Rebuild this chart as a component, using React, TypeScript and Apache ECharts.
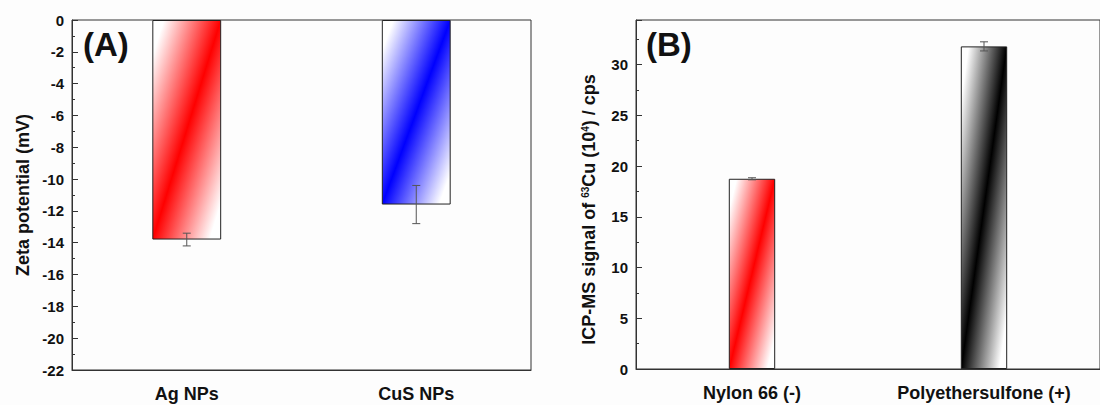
import React, { useEffect, useRef } from "react";
import * as echarts from "echarts";

const catsA = ["Ag NPs", "CuS NPs"];
const zetaMean = [-13.8, -11.6];
const zetaErr = [0.4, 1.2];
const zetaTicks = { min: -22, max: 0, interval: 2 };

const catsB = ["Nylon 66 (-)", "Polyethersulfone (+)"];
const icpMean = [18.75, 31.8];
const icpErr = [0.1, 0.45];
const icpTicks = { min: 0, max: 34.4, interval: 5 };

const colorsA = ["#ff0000", "#0000ff"];
const colorsB = ["#ff0000", "#000000"];

const FONT = "'Liberation Sans', Arial, sans-serif";

function grad(c: string) {
  return new echarts.graphic.LinearGradient(0, 0, 1, 1, [
    { offset: 0, color: "#ffffff" },
    { offset: 0.08, color: "#ffffff" },
    { offset: 0.5, color: c },
    { offset: 0.92, color: "#ffffff" },
    { offset: 1, color: "#ffffff" },
  ]);
}

function errRender(params: any, api: any) {
  const i = api.value(0);
  const lo = api.coord([i, api.value(1)]);
  const hi = api.coord([i, api.value(2)]);
  const w = 4;
  const style = { stroke: "#555", lineWidth: 1 };
  return {
    type: "group",
    children: [
      { type: "line", shape: { x1: lo[0], y1: lo[1], x2: hi[0], y2: hi[1] }, style },
      { type: "line", shape: { x1: lo[0] - w, y1: lo[1], x2: lo[0] + w, y2: lo[1] }, style },
      { type: "line", shape: { x1: hi[0] - w, y1: hi[1], x2: hi[0] + w, y2: hi[1] }, style },
    ],
  };
}

export default function App() {
  const ref = useRef<HTMLDivElement>(null);
  useEffect(() => {
    document.body.style.margin = "0";
    const chart = echarts.init(ref.current!, null, { renderer: "svg" });
    const yCommon = {
      axisLine: { show: true, lineStyle: { color: "#333", width: 1 } },
      axisTick: { show: true, inside: true, length: 6, lineStyle: { color: "#333" } },
      minorTick: { show: true, splitNumber: 2, length: 3, lineStyle: { color: "#333" } },
      splitLine: { show: false },
      axisLabel: { fontFamily: FONT, fontWeight: "bold", fontSize: 15, color: "#111", margin: 8, showMaxLabel: true },
      nameLocation: "middle",
      nameTextStyle: { fontFamily: FONT, fontWeight: "bold", fontSize: 18, color: "#111" },
    };
    const xCommon = {
      type: "category",
      position: "bottom",
      axisLine: { show: true, onZero: false, lineStyle: { color: "#333", width: 1 } },
      axisTick: { show: false },
      axisLabel: { fontFamily: FONT, fontWeight: "bold", fontSize: 18, color: "#111", margin: 15 },
    };
    chart.setOption({
      animation: false,
      backgroundColor: "#fdfdfd",
      grid: [
        { left: 72, top: 20, width: 459, height: 350, show: true, borderColor: "#333", borderWidth: 1, backgroundColor: "transparent" },
        { left: 636, top: 20, width: 474, height: 349, show: true, borderColor: "#333", borderWidth: 1, backgroundColor: "transparent" },
      ],
      xAxis: [
        { ...xCommon, gridIndex: 0, data: catsA },
        { ...xCommon, gridIndex: 1, data: catsB },
      ],
      yAxis: [
        {
          ...yCommon,
          type: "value",
          gridIndex: 0,
          min: zetaTicks.min,
          max: zetaTicks.max,
          interval: zetaTicks.interval,
          name: "Zeta potential (mV)",
          nameGap: 40,
        },
        {
          ...yCommon,
          type: "value",
          gridIndex: 1,
          min: icpTicks.min,
          max: icpTicks.max,
          interval: icpTicks.interval,
          axisLabel: { ...yCommon.axisLabel, showMaxLabel: false },
          name: "ICP-MS signal of {sup|63}Cu (10{sup|4}) / cps",
          nameGap: 38,
          nameTextStyle: {
            ...yCommon.nameTextStyle,
            padding: [0, 30, 0, 0],
            rich: {
              sup: { fontFamily: FONT, fontWeight: "bold", fontSize: 10, color: "#111", verticalAlign: "top", padding: [0, 0, 8, 0] },
            },
          },
        },
      ],
      graphic: [
        { type: "text", left: 83, top: 28, style: { text: "(A)", fontFamily: FONT, fontWeight: "bold", fontSize: 33, fill: "#111" } },
        { type: "text", left: 646, top: 28, style: { text: "(B)", fontFamily: FONT, fontWeight: "bold", fontSize: 33, fill: "#111" } },
      ],
      series: [
        {
          type: "bar",
          xAxisIndex: 0,
          yAxisIndex: 0,
          barWidth: "30%",
          data: zetaMean.map((v, i) => ({
            value: v,
            itemStyle: { color: grad(colorsA[i]), borderColor: "#222", borderWidth: 1 },
          })),
        },
        {
          type: "custom",
          xAxisIndex: 0,
          yAxisIndex: 0,
          renderItem: errRender,
          data: zetaMean.map((v, i) => [i, v - zetaErr[i], v + zetaErr[i]]),
          z: 5,
        },
        {
          type: "bar",
          xAxisIndex: 1,
          yAxisIndex: 1,
          barWidth: "20%",
          data: icpMean.map((v, i) => ({
            value: v,
            itemStyle: { color: grad(colorsB[i]), borderColor: "#222", borderWidth: 1 },
          })),
        },
        {
          type: "custom",
          xAxisIndex: 1,
          yAxisIndex: 1,
          renderItem: errRender,
          data: icpMean.map((v, i) => [i, v - icpErr[i], v + icpErr[i]]),
          z: 5,
        },
      ],
    });
    return () => chart.dispose();
  }, []);
  return <div ref={ref} style={{ width: 1100, height: 405 }} />;
}
